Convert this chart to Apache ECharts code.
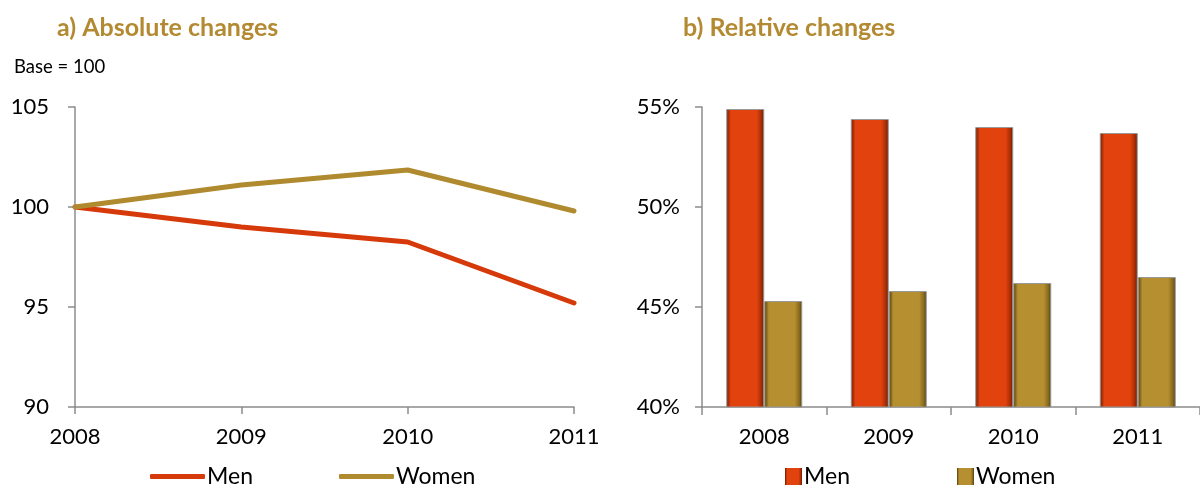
<!DOCTYPE html>
<html><head><meta charset="utf-8">
<script src="https://cdn.jsdelivr.net/npm/echarts@6/dist/echarts.min.js"></script>
<style>html,body{margin:0;padding:0;background:#fff}#c{width:1200px;height:486px}</style>
</head><body><div id="c"></div>
<script>
const years = ['2008','2009','2010','2011'];
const absMen = [100, 99.0, 98.25, 95.2];
const absWomen = [100, 101.1, 101.85, 99.8];
const relMen = [54.9, 54.4, 54.0, 53.7];
const relWomen = [45.3, 45.8, 46.2, 46.5];
const absTicks = {min: 90, max: 105, interval: 5};
const relTicks = {min: 40, max: 55, interval: 5};

const FONT = 'Lato, "Open Sans", sans-serif';
const MEN = '#D63A0A', WOMEN = '#B08A2E', GOLD = '#B38A32', AX = '#8c8c8c';
const grad = (a,b,c) => new echarts.graphic.LinearGradient(0,0,1,0,[
  {offset:0,color:a},{offset:0.12,color:b},{offset:0.8,color:b},{offset:0.92,color:c},{offset:1,color:a}]);
const menBar = grad('#6a1a00','#E2420E','#a82e06');
const womenBar = grad('#4f3c0a','#B58F30','#8a6c1e');

const chart = echarts.init(document.getElementById('c'));
const axisCommon = {
  axisLine:{show:true,lineStyle:{color:AX,width:1.5}},
  axisTick:{show:true,length:7,lineStyle:{color:AX,width:1.5}},
  splitLine:{show:false},
  axisLabel:{color:'#000',fontSize:22,fontFamily:FONT}
};
chart.setOption({
  animation:false,
  title:[
    {text:'a) Absolute changes',left:57,top:15,padding:0,textStyle:{color:GOLD,fontSize:25,fontWeight:'bold',fontFamily:FONT}},
    {text:'b) Relative changes',left:683,top:15,padding:0,textStyle:{color:GOLD,fontSize:25,fontWeight:'bold',fontFamily:FONT}},
    {text:'Base = 100',left:14,top:58,padding:0,textStyle:{color:'#000',fontSize:18.5,fontWeight:'normal',fontFamily:FONT}}
  ],
  grid:[
    {left:75,right:626,top:107,bottom:79},
    {left:702,right:0,top:107,bottom:79}
  ],
  xAxis:[
    Object.assign({},axisCommon,{type:'category',gridIndex:0,data:years,boundaryGap:false,
      axisLabel:Object.assign({},axisCommon.axisLabel,{margin:19})}),
    Object.assign({},axisCommon,{type:'category',gridIndex:1,data:years,boundaryGap:true,
      axisTick:{show:true,length:8,alignWithLabel:false,lineStyle:{color:AX,width:1.5}},
      axisLabel:Object.assign({},axisCommon.axisLabel,{margin:19})})
  ],
  yAxis:[
    Object.assign({},axisCommon,{type:'value',gridIndex:0,min:absTicks.min,max:absTicks.max,interval:absTicks.interval,
      axisLabel:Object.assign({},axisCommon.axisLabel,{margin:26})}),
    Object.assign({},axisCommon,{type:'value',gridIndex:1,min:relTicks.min,max:relTicks.max,interval:relTicks.interval,
      axisLabel:Object.assign({},axisCommon.axisLabel,{margin:22,formatter:'{value}%'})})
  ],
  legend:[
    {left:150,top:465,padding:0,itemWidth:55,itemHeight:5,itemGap:86,
     textStyle:{fontSize:23,fontFamily:FONT,color:'#000',padding:[0,0,0,-3]},
     data:[{name:'Men',icon:'roundRect',itemStyle:{color:MEN}},{name:'Women',icon:'roundRect',itemStyle:{color:WOMEN}}]},
    {left:785,top:465,padding:0,itemWidth:17,itemHeight:17,itemGap:107,
     textStyle:{fontSize:23,fontFamily:FONT,color:'#000',padding:[0,0,0,-3]},
     data:[{name:'Men',icon:'rect',itemStyle:{color:menBar}},{name:'Women',icon:'rect',itemStyle:{color:womenBar}}]}
  ],
  series:[
    {name:'Men',type:'line',xAxisIndex:0,yAxisIndex:0,data:absMen,symbol:'none',lineStyle:{color:MEN,width:5,cap:'round'},itemStyle:{color:MEN}},
    {name:'Women',type:'line',xAxisIndex:0,yAxisIndex:0,data:absWomen,symbol:'none',lineStyle:{color:WOMEN,width:5,cap:'round'},itemStyle:{color:WOMEN}},
    {name:'Men',type:'bar',xAxisIndex:1,yAxisIndex:1,data:relMen,barWidth:38,barGap:'0%',
     itemStyle:{color:menBar,borderColor:'#999',borderWidth:1}},
    {name:'Women',type:'bar',xAxisIndex:1,yAxisIndex:1,data:relWomen,barWidth:38,barGap:'0%',
     itemStyle:{color:womenBar,borderColor:'#999',borderWidth:1}}
  ]
});
</script></body></html>
